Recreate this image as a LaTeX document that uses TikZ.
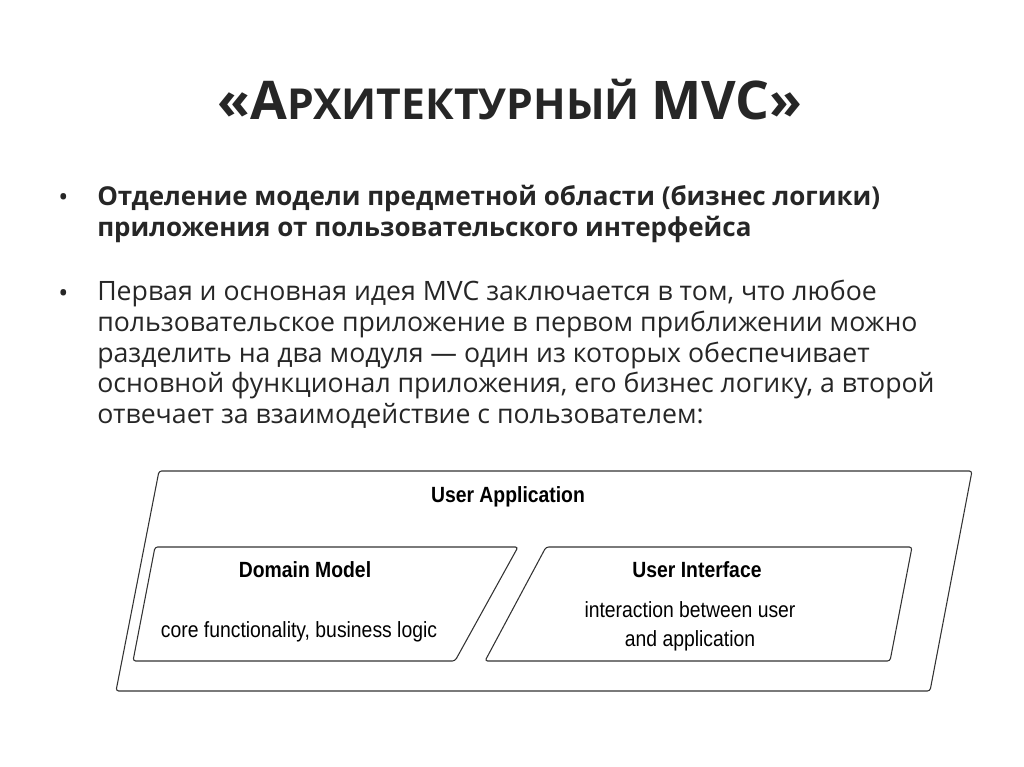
\documentclass[tikz,border=0pt]{standalone}
\usepackage{fontspec}
\setmainfont{Open Sans}
\newfontfamily\diag[FakeStretch=0.88]{Liberation Sans}
\begin{document}
\begin{tikzpicture}[x=0.75pt,y=-0.75pt,
  body/.style={anchor=north west,align=left,inner sep=0pt,font=\fontsize{20}{23}\selectfont,text=black!85},
  dlabel/.style={font=\diag\bfseries\fontsize{16.5}{18}\selectfont,inner sep=0pt},
  dtext/.style={font=\diag\fontsize{16.5}{22}\selectfont,inner sep=0pt,align=center},
  para/.style={draw=black!80,line width=0.8pt,rounded corners=2pt}]
\useasboundingbox (0,0) rectangle (1024,767);
\node[inner sep=0pt,text=black!85] (title) at (510,100)
  {\fontsize{40}{50}\selectfont\bfseries «А\fontsize{32}{40}\selectfont РХИТЕКТУРНЫЙ \fontsize{40}{50}\selectfont MVC»};
\node[body,anchor=west] (b1) at (58,200) {•};
\node[body,font=\bfseries\fontsize{19.5}{23}\selectfont,anchor=north west] (t1) at (97,185)
  {Отделение модели предметной области (бизнес логики)\\приложения от пользовательского интерфейса};
\node[body,anchor=west] (b2) at (58,296) {•};
\node[body] (t2) at (97,280)
  {Первая и основная идея MVC заключается в том, что любое\\пользовательское приложение в первом приближении можно\\разделить на два модуля — один из которых обеспечивает\\основной функционал приложения, его бизнес логику, а второй\\отвечает за взаимодействие с пользователем:};
\draw[para] (159,471) -- (972,471) -- (930,691) -- (116,691) -- cycle;
\draw[para] (155,547) -- (518,547) -- (455,661) -- (133,661) -- cycle;
\draw[para] (546,547) -- (912,547) -- (890,661) -- (485,661) -- cycle;
\node[dlabel] (ua) at (508,497) {User Application};
\node[dlabel] (dm) at (305,570) {Domain Model};
\node[dtext] (dmt) at (299,632) {core functionality, business logic};
\node[dlabel] (ui) at (697,570) {User Interface};
\node[dtext] (uit) at (690,626) {interaction between user\\and application};
\end{tikzpicture}
\end{document}
